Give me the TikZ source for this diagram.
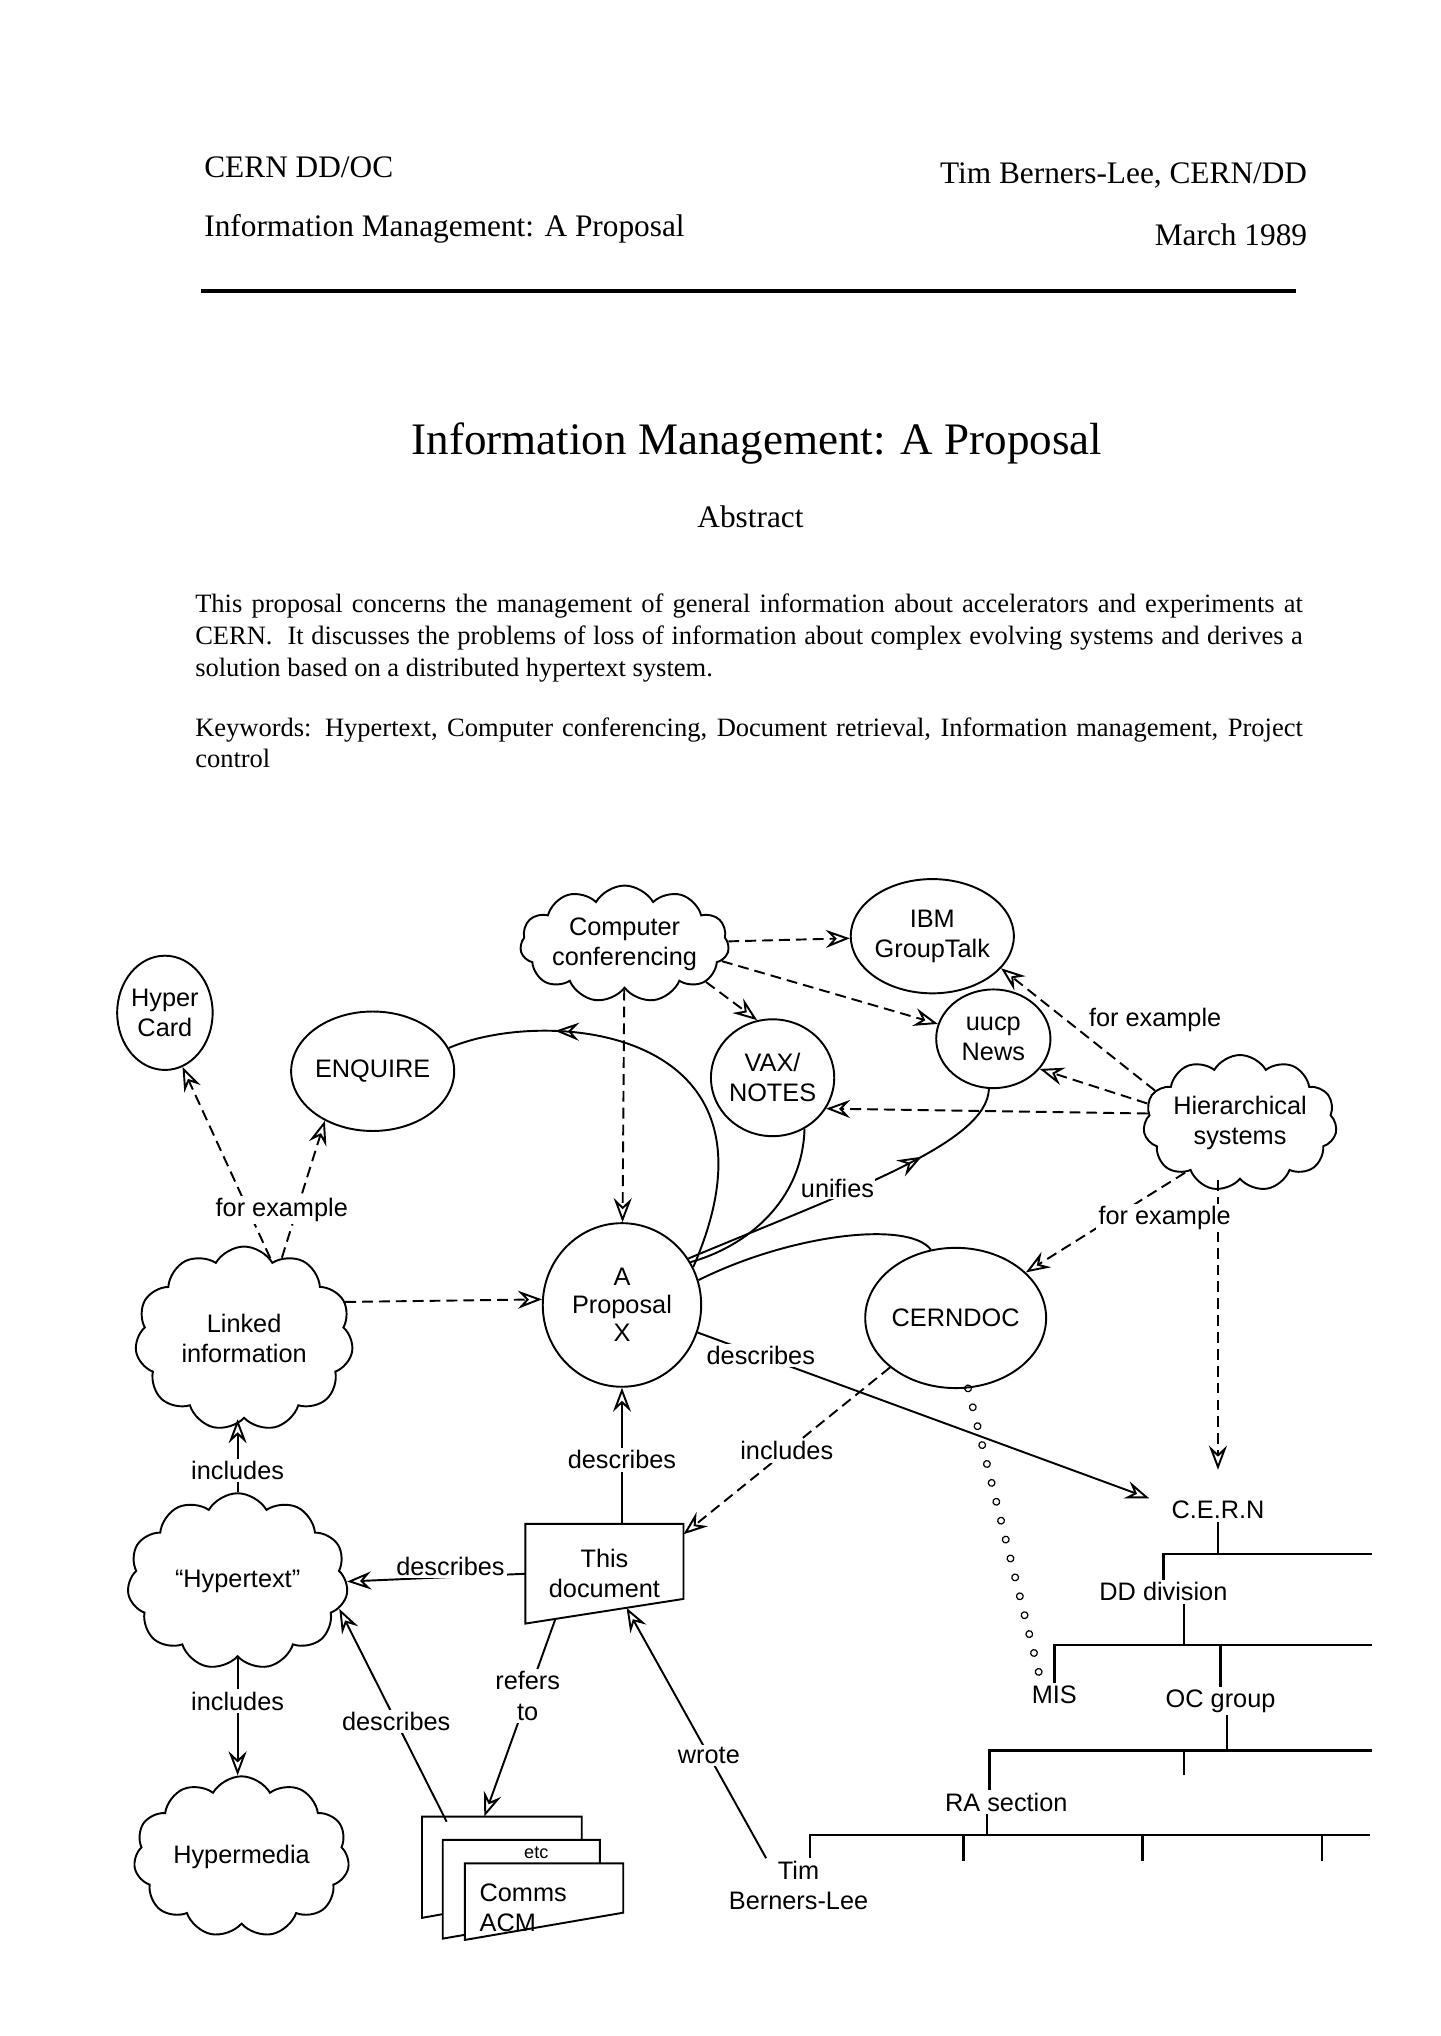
\documentclass[tikz,border=0pt]{standalone}
\usepackage{fontspec}
\setmainfont{Liberation Serif}
\newfontfamily\diagfont{Liberation Sans}
\usetikzlibrary{shapes.geometric,shapes.symbols,arrows.meta,decorations.markings,calc}

\newdimen\pxu \pxu=0.018936cm

\tikzset{
  head/.style={inner sep=0pt, font=\fontsize{13}{15}\selectfont},
  bubble/.style={draw, line width=.8pt, ellipse, inner sep=0pt, align=center, font={\diagfont\fontsize{10.5}{12.5}\selectfont}},
  puff/.style={draw, line width=.8pt, cloud, cloud puffs=11, cloud puff arc=120, cloud ignores aspect, inner sep=0pt, align=center, font={\diagfont\fontsize{10.5}{12.5}\selectfont}},
  lbl/.style={font={\diagfont\fontsize{10.5}{12.5}\selectfont}, fill=white, inner sep=1pt},
  link/.style={line width=.8pt, -{Stealth[open,length=10pt,width=7.5pt,inset=3.5pt]}},
  dlink/.style={link, dash pattern=on 4.5pt off 2.5pt},
  mid/.style={postaction={decorate}, decoration={markings, mark=at position #1 with {\arrow{Stealth[open,length=10pt,width=7.5pt,inset=3.5pt]}}}},
  dotty/.style={decorate, decoration={markings, mark=between positions 0 and 1 step 15\pxu with {\draw[line width=.5pt] (0,0) circle (1.4pt);}}},
  twig/.style={line width=1pt}
}

\begin{document}
\begin{tikzpicture}[x=\pxu, y=-\pxu]
  \fill[white] (0,0) rectangle (1109,1568);
  \useasboundingbox (0,0) rectangle (1109,1568);

  \node[head, anchor=base west] (lab) at (157,137) {CERN DD/OC};
  \node[head, anchor=base west] (subj) at (157,182) {Information Management: A Proposal};
  \node[head, anchor=base east] (auth) at (1007,141) {Tim Berners-Lee, CERN/DD};
  \node[head, anchor=base east] (date) at (1007,189) {March 1989};
  \draw[line width=1.4pt] (155,224) -- (998,224);

  \node[inner sep=0pt, anchor=base, font=\fontsize{18.7}{22}\selectfont] (title) at (583,350) {Information Management: A Proposal};
  \node[head, anchor=base] (abst) at (578,406) {Abstract};
  \node[inner sep=0pt, anchor=base west] (para) at (150,472) {\parbox[t]{853\pxu}{\fontsize{11}{13.15}\selectfont
    This proposal concerns the management of general information about accelerators and experiments at\linebreak
    CERN.\ \ It discusses the problems of loss of information about complex evolving systems and derives a\linebreak
    solution based on a distributed hypertext system.}};
  \node[inner sep=0pt, anchor=base west] (keyw) at (150,567) {\parbox[t]{853\pxu}{\fontsize{11}{13.15}\selectfont
    Keywords: Hypertext, Computer conferencing, Document retrieval, Information management, Project\linebreak
    control}};

  \node[bubble, minimum width=70\pxu, minimum height=88\pxu] (hcard) at (127,780) {Hyper\\Card};
  \node[bubble, minimum width=116\pxu, minimum height=92\pxu] (enq) at (287,825) {ENQUIRE};
  \node[puff, minimum width=138\pxu, minimum height=90\pxu] (conf) at (481,727) {Computer\\conferencing};
  \node[bubble, minimum width=94\pxu, minimum height=88\pxu] (ibm) at (718,721) {IBM\\GroupTalk};
  \node[bubble, minimum width=88\pxu, minimum height=76\pxu] (uucp) at (765,800) {uucp\\News};
  \node[bubble, minimum width=76\pxu, minimum height=90\pxu] (vax) at (595,830) {VAX/\\NOTES};
  \node[puff, minimum width=142\pxu, minimum height=105\pxu] (hier) at (955,865) {Hierarchical\\systems};
  \node[bubble, minimum width=122\pxu, minimum height=126\pxu, font={\diagfont\fontsize{10.5}{11.5}\selectfont}] (prop) at (479,1005) {A\\Proposal\\X};
  \node[bubble, minimum width=106\pxu, minimum height=108\pxu] (cdoc) at (736,1015) {CERNDOC};
  \node[puff, minimum width=168\pxu, minimum height=142\pxu] (linked) at (188,1031) {Linked\\information};
  \node[puff, minimum width=170\pxu, minimum height=136\pxu] (htext) at (183,1218) {“Hypertext”};
  \node[puff, minimum width=166\pxu, minimum height=124\pxu] (hmedia) at (186,1430) {Hypermedia};

  \node[minimum width=121\pxu, minimum height=76\pxu, inner sep=0pt, align=center, font={\diagfont\fontsize{10.5}{12.5}\selectfont}] (doc) at (465.5,1212) {This\\document};
  \coordinate (doccorner) at ([yshift=19\pxu]doc.south east);
  \draw[line width=.8pt] (doc.north west) -- (doc.north east) -- (doccorner) -- (doc.south west) -- cycle;

  \draw[line width=.8pt, fill=white] (325,1399) -- (448,1399) -- (448,1455) -- (325,1477) -- cycle;
  \draw[line width=.8pt, fill=white] (341,1417) -- (462,1417) -- (462,1472) -- (341,1493) -- cycle;
  \draw[line width=.8pt, fill=white] (358,1435) -- (480,1435) -- (480,1473) -- (358,1494) -- cycle;
  \node[inner sep=0pt, font={\diagfont\fontsize{7.5}{9}\selectfont}] (etc) at (413,1427) {etc};
  \node[inner sep=0pt, anchor=west, align=left, font={\diagfont\fontsize{10.5}{12.5}\selectfont}] (acm) at (369,1469) {Comms\\ACM};
  \coordinate (acmtop) at (373,1399);
  \coordinate (acmside) at (344,1403);

  \node[lbl, align=center] (tim) at (615,1452) {Tim\\Berners-Lee};
  \node[lbl] (cern) at (938,1163) {C.E.R.N};
  \node[lbl] (dd) at (896,1226) {DD division};
  \node[lbl] (mis) at (812,1305) {MIS};
  \node[lbl] (oc) at (940,1310) {OC group};
  \node[lbl] (ra) at (775,1388) {RA section};

  \draw[twig] (cern.south) -- (cern.south |- 0,1197);
  \draw[twig] (dd.north) |- (1057,1197);
  \draw[twig] (dd.south -| 912,0) -- (912,1267);
  \draw[twig] (mis.north) |- (1057,1267);
  \draw[twig] (oc.north) -- (oc.north |- 0,1267);
  \draw[twig] (oc.south -| 945,0) -- (945,1348);
  \draw[twig] (ra.north -| 762,0) |- (1057,1348);
  \draw[twig] (912,1348) -- (912,1367);
  \draw[twig] (ra.south -| 760,0) -- (760,1413);
  \draw[twig] (tim.north -| 624,0) |- (1055,1413);
  \foreach \tx in {742,880,1018}
    \draw[twig] (\tx,1413) -- (\tx,1433);

  \draw[dlink] (conf) -- (ibm);
  \draw[dlink] (conf.-10) -- (uucp.165);
  \draw[dlink] (conf.-25) -- (vax.105);
  \draw[dlink] (conf) -- (prop);
  \draw[dlink] (hier.159) -- (ibm.-25) node[lbl, fill=none, pos=.45, anchor=south west] (fex1) {for example};
  \draw[dlink] (hier.168) -- (uucp.-33);
  \draw[dlink] (hier.174) -- (vax.-30);
  \draw[dlink] (hier.south -| cern.north) -- ([yshift=22\pxu]cern.north);
  \draw[dlink] (hier.222) -- (cdoc.33);
  \node[lbl] (fex2) at (897,938) {for example};

  \draw[dlink] (linked.20) -- (prop.176);
  \draw[dlink] (linked.72) -- (hcard.-72);
  \draw[dlink] (linked.65) -- (enq.-134);
  \node[lbl] (fex3) at (217,932) {for example};

  \draw[link] (htext.north) -- (htext.north |- linked.south) node[lbl, pos=.3] (inc1) {includes};
  \draw[link] (htext.south) -- (htext.south |- hmedia.north) node[lbl, pos=.37] (inc2) {includes};
  \draw[link] (prop.south |- doc.north) -- (prop.south) node[lbl, pos=.47] (des1) {describes};
  \draw[link] (doc.west) -- (htext.east) node[lbl, pos=.42, above=-1pt] (des2) {describes};
  \draw[dlink] (cdoc.217) -- ([yshift=-8\pxu]doc.north east) node[lbl, pos=.5] (inc3) {includes};
  \draw[link] (prop.-20) -- ([xshift=-15\pxu]cern.north west) node[lbl, pos=.14] (des3) {describes};

  \coordinate (docbot) at ($(doc.south west)!0.19!(doccorner)$);
  \coordinate (docwrote) at ($(doc.south west)!0.64!(doccorner)$);
  \draw[link] (docbot) -- (acmtop) node[lbl, pos=.39, align=center] (refs) {refers\\to};
  \draw[link] (acmside) -- (htext.-15) node[lbl, pos=.47] (des4) {describes};
  \draw[link] ([xshift=-25\pxu]tim.north) -- (docwrote) node[lbl, pos=.41] (wrote) {wrote};

  \draw[line width=.8pt, mid=.76] (prop.28) .. controls (615,790) and (420,775) .. (enq.17);
  \draw[line width=.8pt] (prop.32) .. controls (575,960) and (618,925) .. (vax.-58);
  \draw[line width=.8pt, mid=.72] (prop.35) .. controls (660,915) and (760,880) .. (uucp.-95);
  \draw[line width=.8pt] (prop.18) .. controls (610,950) and (700,940) .. (cdoc.110);
  \node[lbl, inner sep=.5pt] (unif) at (645,915) {unifies};

  \draw[dotty] (cdoc.-80) -- ([xshift=-10\pxu]mis.north);
\end{tikzpicture}
\end{document}
